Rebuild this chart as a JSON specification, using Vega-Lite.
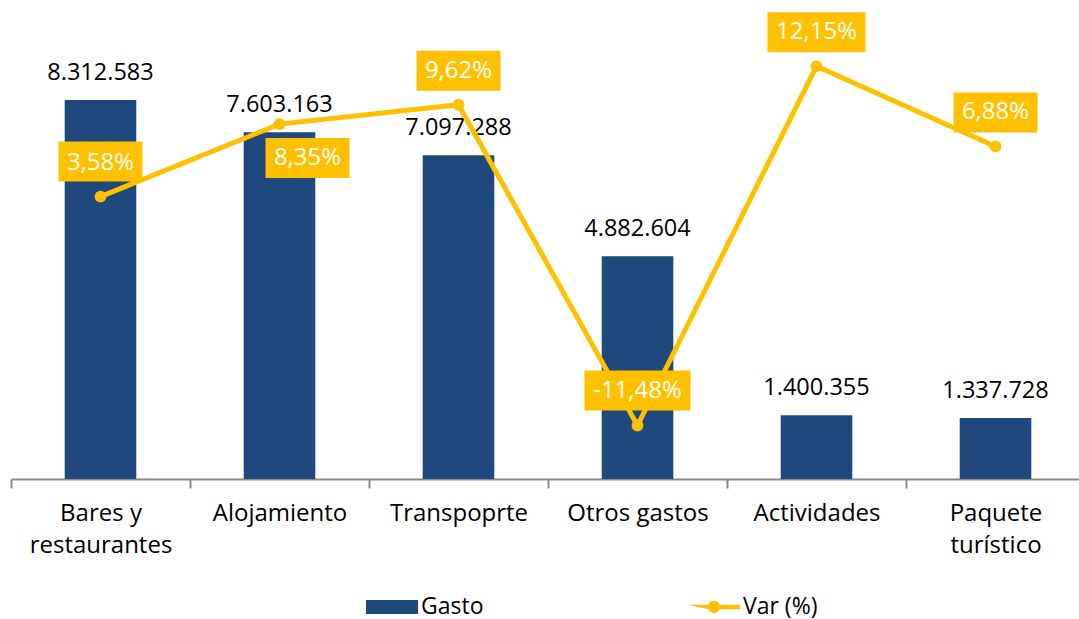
{
  "$schema": "https://vega.github.io/schema/vega-lite/v6.json",
  "autosize": {"type": "none"},
  "padding": {"left": 11, "top": 23, "right": 0, "bottom": 140},
  "width": 1068,
  "height": 456,
  "data": {
    "values": [
      {"cat": "Bares y restaurantes", "gasto": 8312583, "var": 0.0358},
      {"cat": "Alojamiento", "gasto": 7603163, "var": 0.0835},
      {"cat": "Transpoprte", "gasto": 7097288, "var": 0.0962},
      {"cat": "Otros gastos", "gasto": 4882604, "var": -0.1148},
      {"cat": "Actividades", "gasto": 1400355, "var": 0.1215},
      {"cat": "Paquete turístico", "gasto": 1337728, "var": 0.0688}
    ]
  },
  "encoding": {
    "x": {
      "field": "cat",
      "type": "nominal",
      "sort": null,
      "scale": {"range": [0, 1074], "paddingInner": 0, "paddingOuter": 0},
      "axis": {
        "title": null,
        "labelAngle": 0,
        "tickBand": "extent",
        "domainColor": "#898989",
        "domainWidth": 2,
        "tickColor": "#898989",
        "tickWidth": 2,
        "tickSize": 9,
        "labelFont": "Open Sans",
        "labelFontSize": 24,
        "labelColor": "#000000",
        "labelPadding": 13,
        "labelLineHeight": 32,
        "labelOverlap": false,
        "labelBound": false,
        "grid": false,
        "labelExpr": "datum.label == 'Bares y restaurantes' ? ['Bares y', 'restaurantes'] : datum.label == 'Paquete turístico' ? ['Paquete', 'turístico'] : datum.label"
      }
    }
  },
  "layer": [
    {
      "mark": {"type": "bar", "width": {"band": 0.4}},
      "encoding": {
        "y": {"field": "gasto", "type": "quantitative", "scale": {"domain": [0, 10000000]}, "axis": null},
        "color": {
          "datum": "Gasto",
          "type": "nominal",
          "scale": {"domain": ["Gasto", "Var (%)"], "range": ["#1F497D", "#FFC000"]},
          "legend": {
            "title": null,
            "orient": "none",
            "legendX": 355,
            "legendY": 558,
            "direction": "horizontal",
            "padding": 0,
            "labelFont": "Open Sans",
            "labelFontSize": 23,
            "labelColor": "#000000",
            "labelOffset": 3,
            "columnPadding": 204,
            "symbolSize": 2704,
            "encode": {
              "symbols": {
                "update": {
                  "shape": {"signal": "datum.value === 'Gasto' ? 'M-1,-0.27H1V0.27H-1Z' : 'M-1,-0.09H-0.22A0.238,0.238 0 0 1 0.22,-0.09H1V0.09H0.22A0.238,0.238 0 0 1 -0.22,0.09Z'"},
                  "fill": {"signal": "datum.value === 'Gasto' ? '#1F497D' : '#FFC000'"},
                  "stroke": {"value": "transparent"},
                  "strokeWidth": {"value": 0},
                  "opacity": {"value": 1},
                  "size": {"value": 2704}
                }
              }
            }
          }
        }
      }
    },
    {
      "mark": {"type": "text", "baseline": "middle", "dy": -27, "fontSize": 23.5, "color": "#000000", "font": "Open Sans"},
      "encoding": {
        "y": {"field": "gasto", "type": "quantitative", "scale": {"domain": [0, 10000000]}, "axis": null},
        "text": {"field": "gasto", "type": "quantitative", "format": ",.0f"}
      }
    },
    {
      "mark": {"type": "line", "strokeWidth": 5, "point": {"filled": true, "size": 140, "opacity": 1}},
      "encoding": {
        "y": {"field": "var", "type": "quantitative", "scale": {"domain": [-0.15, 0.15]}, "axis": null},
        "color": {"datum": "Var (%)", "type": "nominal"}
      }
    },
    {
      "mark": {"type": "point", "filled": true, "color": "#FFC000", "opacity": 1, "size": 4, "strokeWidth": 0},
      "encoding": {
        "y": {"field": "var", "type": "quantitative", "scale": {"domain": [-0.15, 0.15]}, "axis": null},
        "shape": {
          "field": "cat",
          "type": "nominal",
          "legend": null,
          "scale": {
            "domain": ["Bares y restaurantes", "Alojamiento", "Transpoprte", "Otros gastos", "Actividades", "Paquete turístico"],
            "range": [
              "M-42,-55H42V-15H-42Z",
              "M-14,14H70V54H-14Z",
              "M-42,-54H42V-14H-42Z",
              "M-53,-55H53V-15H-53Z",
              "M-49,-54H49V-14H-49Z",
              "M-42,-54H42V-14H-42Z"
            ]
          }
        }
      }
    },
    {
      "transform": [{"filter": "datum.cat != 'Alojamiento'"}],
      "mark": {"type": "text", "baseline": "middle", "dy": -34, "fontSize": 24, "color": "#FFFFFF", "font": "Open Sans"},
      "encoding": {
        "y": {"field": "var", "type": "quantitative", "scale": {"domain": [-0.15, 0.15]}, "axis": null},
        "text": {"field": "var", "type": "quantitative", "format": ".2%"}
      }
    },
    {
      "transform": [{"filter": "datum.cat == 'Alojamiento'"}],
      "mark": {"type": "text", "baseline": "middle", "dx": 28, "dy": 34, "fontSize": 24, "color": "#FFFFFF", "font": "Open Sans"},
      "encoding": {
        "y": {"field": "var", "type": "quantitative", "scale": {"domain": [-0.15, 0.15]}, "axis": null},
        "text": {"field": "var", "type": "quantitative", "format": ".2%"}
      }
    }
  ],
  "resolve": {"scale": {"y": "independent"}},
  "config": {
    "font": "Open Sans",
    "view": {"stroke": null},
    "locale": {
      "number": {"decimal": ",", "thousands": ".", "grouping": [3], "currency": ["", " €"], "minus": "-"}
    }
  }
}
